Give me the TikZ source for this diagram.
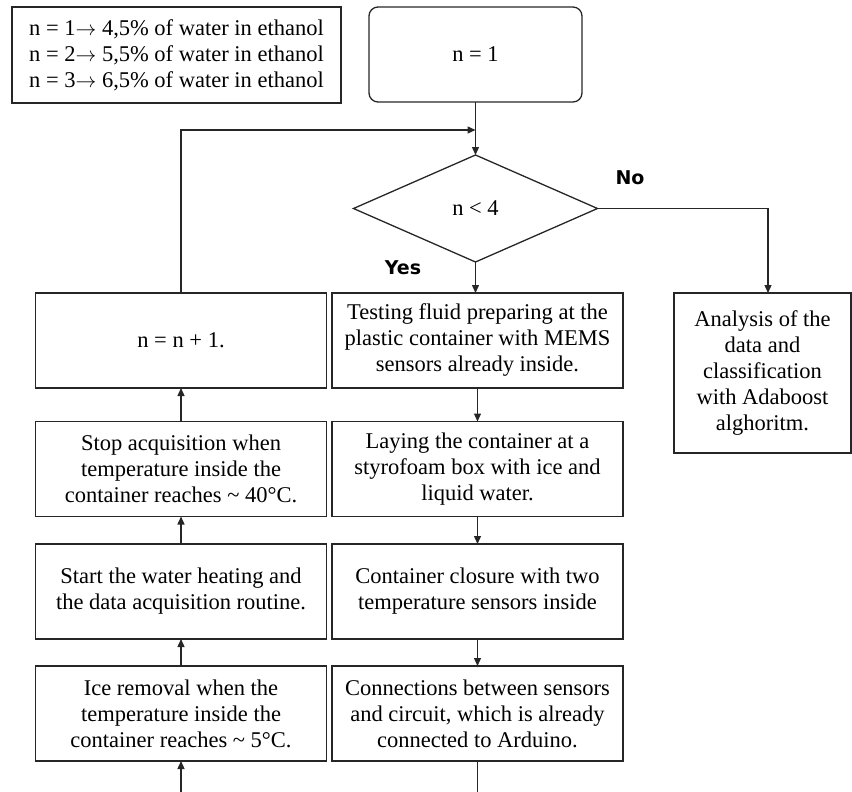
\documentclass[tikz,border=0pt]{standalone}
\usepackage{fontspec}
\setmainfont{Liberation Serif}
\newfontfamily\labelfont{DejaVu Sans}
\usetikzlibrary{shapes.geometric,arrows.meta}
\newcommand{\arr}{\(\rightarrow\)}
\begin{document}
\begin{tikzpicture}[x=1pt,y=-1pt,
  every node/.style={inner sep=0pt,outer sep=0pt},
  txt/.style={font=\fontsize{22.5}{26}\selectfont,align=center},
  box/.style={txt,draw=black!85,line width=1.3pt,rectangle},
  colbox/.style={box,minimum width=291pt,minimum height=95pt},
  flow/.style={draw=black!85,line width=1.3pt,-{Triangle[length=8pt,width=7pt]}},
  plain/.style={draw=black!85,line width=1.3pt},
  yn/.style={font=\labelfont\bfseries\fontsize{19}{22}\selectfont}]
\useasboundingbox (0,0) rectangle (852,792);
% legend
\node[box,minimum width=329pt,minimum height=96pt] (legend) at (176.5,55)
  {n = 1\arr\ 4,5\% of water in ethanol\\n = 2\arr\ 5,5\% of water in ethanol\\n = 3\arr\ 6,5\% of water in ethanol};
% start
\node[box,rounded corners=9pt,minimum width=213pt,minimum height=95pt] (start) at (475.5,54.5) {n = 1};
% decision
\node[txt,draw=black!85,line width=1.3pt,diamond,aspect=2.28,minimum width=244pt,minimum height=107pt] (dec) at (475.5,208.5) {n < 4};
\coordinate (join) at (475.5,130);
% right column
\node[colbox] (r1) at (477.5,340.5) {Testing fluid preparing at the\\plastic container with MEMS\\sensors already inside.};
\node[colbox] (r2) at (477.5,469) {Laying the container at a\\styrofoam box with ice and\\liquid water.};
\node[colbox] (r3) at (477.5,591.5) {Container closure with two\\temperature sensors inside};
\node[colbox] (r4) at (477.5,713.5) {Connections between sensors\\and circuit, which is already\\connected to Arduino.};
% left column
\node[colbox] (l1) at (181,340.5) {n = n + 1.};
\node[colbox] (l2) at (181,469) {Stop acquisition when\\temperature inside the\\container reaches \textasciitilde\ 40°C.};
\node[colbox] (l3) at (181,591.5) {Start the water heating and\\the data acquisition routine.};
\node[colbox] (l4) at (181,713.5) {Ice removal when the\\temperature inside the\\container reaches \textasciitilde\ 5°C.};
% analysis
\node[box,minimum width=177pt,minimum height=160pt] (ana) at (762.5,373) {Analysis of the\\data and\\classification\\with Adaboost\\alghoritm.};
% labels
\node[yn] (no) at (630,178) {No};
\node[yn] (yes) at (403,268) {Yes};
% connectors
\coordinate (nocorner) at (768,208.5);
\coordinate (botL) at (181,792);
\coordinate (botR) at (477.5,792);
\draw[flow] (start.south) -- (dec.north);
\draw[flow] (l1.north) |- (join);
\draw[flow] (dec.south) -- (dec.south |- r1.north);
\draw[flow] (dec.east) -- (nocorner) -- (nocorner |- ana.north);
\draw[flow] (r1) -- (r2);
\draw[flow] (r2) -- (r3);
\draw[flow] (r3) -- (r4);
\draw[flow] (l4) -- (l3);
\draw[flow] (l3) -- (l2);
\draw[flow] (l2) -- (l1);
\draw[flow] (botL) -- (l4.south);
\draw[plain] (r4.south) -- (botR);
\end{tikzpicture}
\end{document}
